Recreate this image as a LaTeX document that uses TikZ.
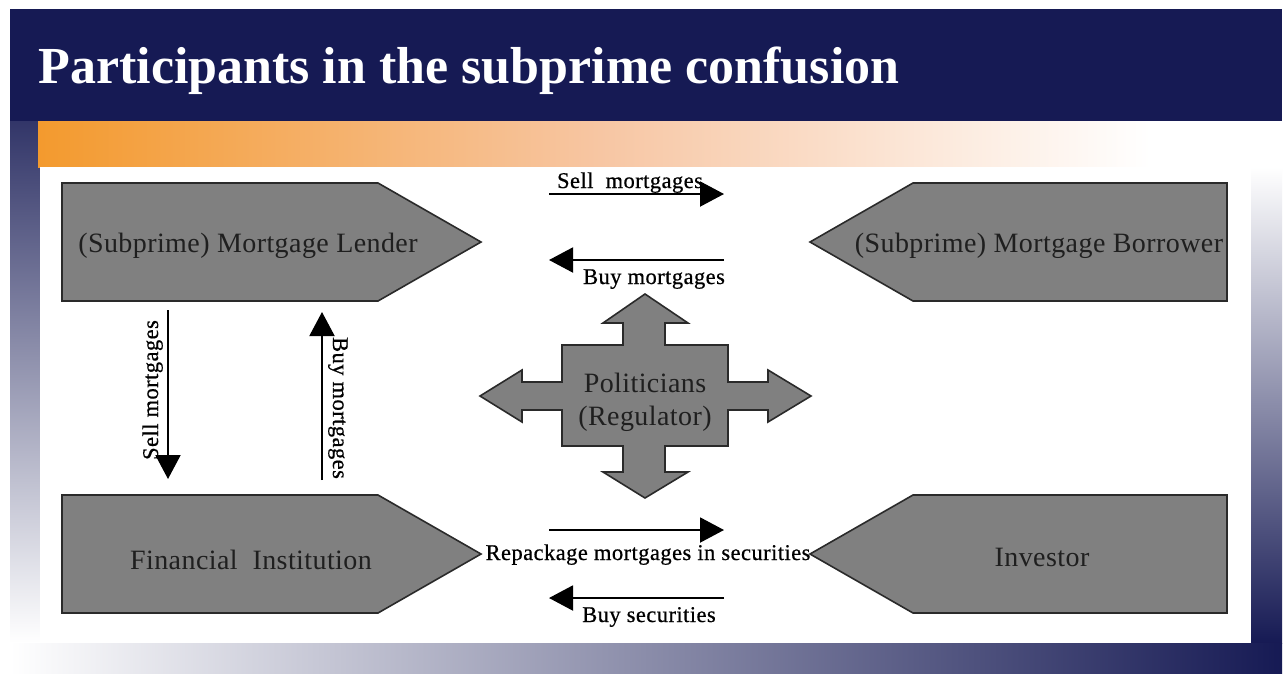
\documentclass[tikz,border=0pt]{standalone}
\usepackage{fontspec}
\setmainfont{Liberation Serif}
\newfontfamily\labelfont[FakeBold=0.6,LetterSpace=2]{Liberation Serif}
\newfontfamily\boxfont[LetterSpace=1.5]{Liberation Serif}
\usetikzlibrary{arrows.meta}
\definecolor{navy}{HTML}{161A54}
\definecolor{barorange}{HTML}{F39A2E}
\definecolor{barpeach}{HTML}{F7C6A3}
\definecolor{boxgray}{HTML}{808080}
\definecolor{edgegray}{HTML}{2A2A2A}
\begin{document}
\begin{tikzpicture}[x=0.5pt,y=-0.5pt,
  shapebox/.style={fill=boxgray,draw=edgegray,line width=0.8pt,line join=miter},
  boxtext/.style={font=\boxfont\fontsize{14}{16.8}\selectfont,text=black!88,inner sep=0pt},
  flow/.style={line width=1pt,-{Triangle[length=12pt,width=12.5pt]}},
  flowlabel/.style={font=\labelfont\fontsize{11.25}{13}\selectfont,text=black,inner sep=0pt}]

% page and frame
\fill[white] (0,0) rectangle (1284,675);
\fill[navy] (10,9) rectangle (1282,121);
\shade[top color=navy!88,bottom color=white] (10,121) rectangle (40,643);
\shade[top color=white,bottom color=navy] (1251,167) rectangle (1282,643);
\shade[left color=white,right color=navy] (10,643) rectangle (1282,673);
\shade[left color=barorange,right color=barpeach] (38,121) rectangle (600,167);
\shade[left color=barpeach,right color=white] (600,121) rectangle (1150,167);
\fill[white] (1150,121) rectangle (1282,167);
\fill[white] (40,167) rectangle (1251,643);

% title
\node[anchor=base west,inner sep=0pt,text=white,
      font=\fontsize{26}{30}\selectfont\bfseries] (title) at (38,83)
      {Participants in the subprime confusion};

% participant boxes
\draw[shapebox] (62,183) -- (378,183) -- (481,242) -- (378,301) -- (62,301) -- cycle;
\draw[shapebox] (1227,183) -- (913,183) -- (810,242) -- (913,301) -- (1227,301) -- cycle;
\draw[shapebox] (62,495) -- (378,495) -- (481,554) -- (378,613) -- (62,613) -- cycle;
\draw[shapebox] (1227,495) -- (913,495) -- (810,554) -- (913,613) -- (1227,613) -- cycle;

\node[boxtext,anchor=base] (lender) at (248,252) {(Subprime) Mortgage Lender};
\node[boxtext,anchor=base] (borrower) at (1039,252) {(Subprime) Mortgage Borrower};
\node[boxtext,anchor=base] (fininst) at (251,569) {Financial\ \ Institution};
\node[boxtext,anchor=base] (investor) at (1042,566) {Investor};

% regulator cross
\draw[shapebox] (645,294) -- (688,323) -- (665,323) -- (665,345) -- (728,345)
  -- (728,382) -- (768,382) -- (768,370) -- (811,396) -- (768,422) -- (768,410)
  -- (728,410) -- (728,446) -- (665,446) -- (665,472) -- (688,472) -- (645,498)
  -- (603,472) -- (623,472) -- (623,446) -- (562,446) -- (562,410) -- (522,410)
  -- (522,422) -- (480,396) -- (522,370) -- (522,382) -- (562,382) -- (562,345)
  -- (623,345) -- (623,323) -- (603,323) -- cycle;
\node[boxtext,anchor=base] (pol) at (645,392) {Politicians};
\node[boxtext,anchor=base] (reg) at (645,425) {(Regulator)};

% flow end points
\coordinate (smA) at (549,194);  \coordinate (smB) at (724,194);
\coordinate (bmA) at (724,260);  \coordinate (bmB) at (549,260);
\coordinate (rpA) at (549,530);  \coordinate (rpB) at (724,530);
\coordinate (bsA) at (724,598);  \coordinate (bsB) at (549,598);
\coordinate (vsA) at (168,310);  \coordinate (vsB) at (168,479);
\coordinate (vbA) at (322,480);  \coordinate (vbB) at (322,312);

\draw[flow] (smA) -- (smB);
\draw[flow] (bmA) -- (bmB);
\draw[flow] (rpA) -- (rpB);
\draw[flow] (bsA) -- (bsB);
\draw[flow] (vsA) -- (vsB);
\draw[flow] (vbA) -- (vbB);

% flow labels
\node[flowlabel,anchor=base] (lsm) at (630,188) {Sell\ \ mortgages};
\node[flowlabel,anchor=base] (lbm) at (654,284) {Buy mortgages};
\node[flowlabel,anchor=base] (lrp) at (648,560) {Repackage mortgages in securities};
\node[flowlabel,anchor=base] (lbs) at (649,622) {Buy securities};
\node[flowlabel,anchor=base,rotate=90] (lvs) at (158,390) {Sell mortgages};
\node[flowlabel,anchor=base,rotate=-90] (lvb) at (333,408) {Buy mortgages};
\end{tikzpicture}
\end{document}
